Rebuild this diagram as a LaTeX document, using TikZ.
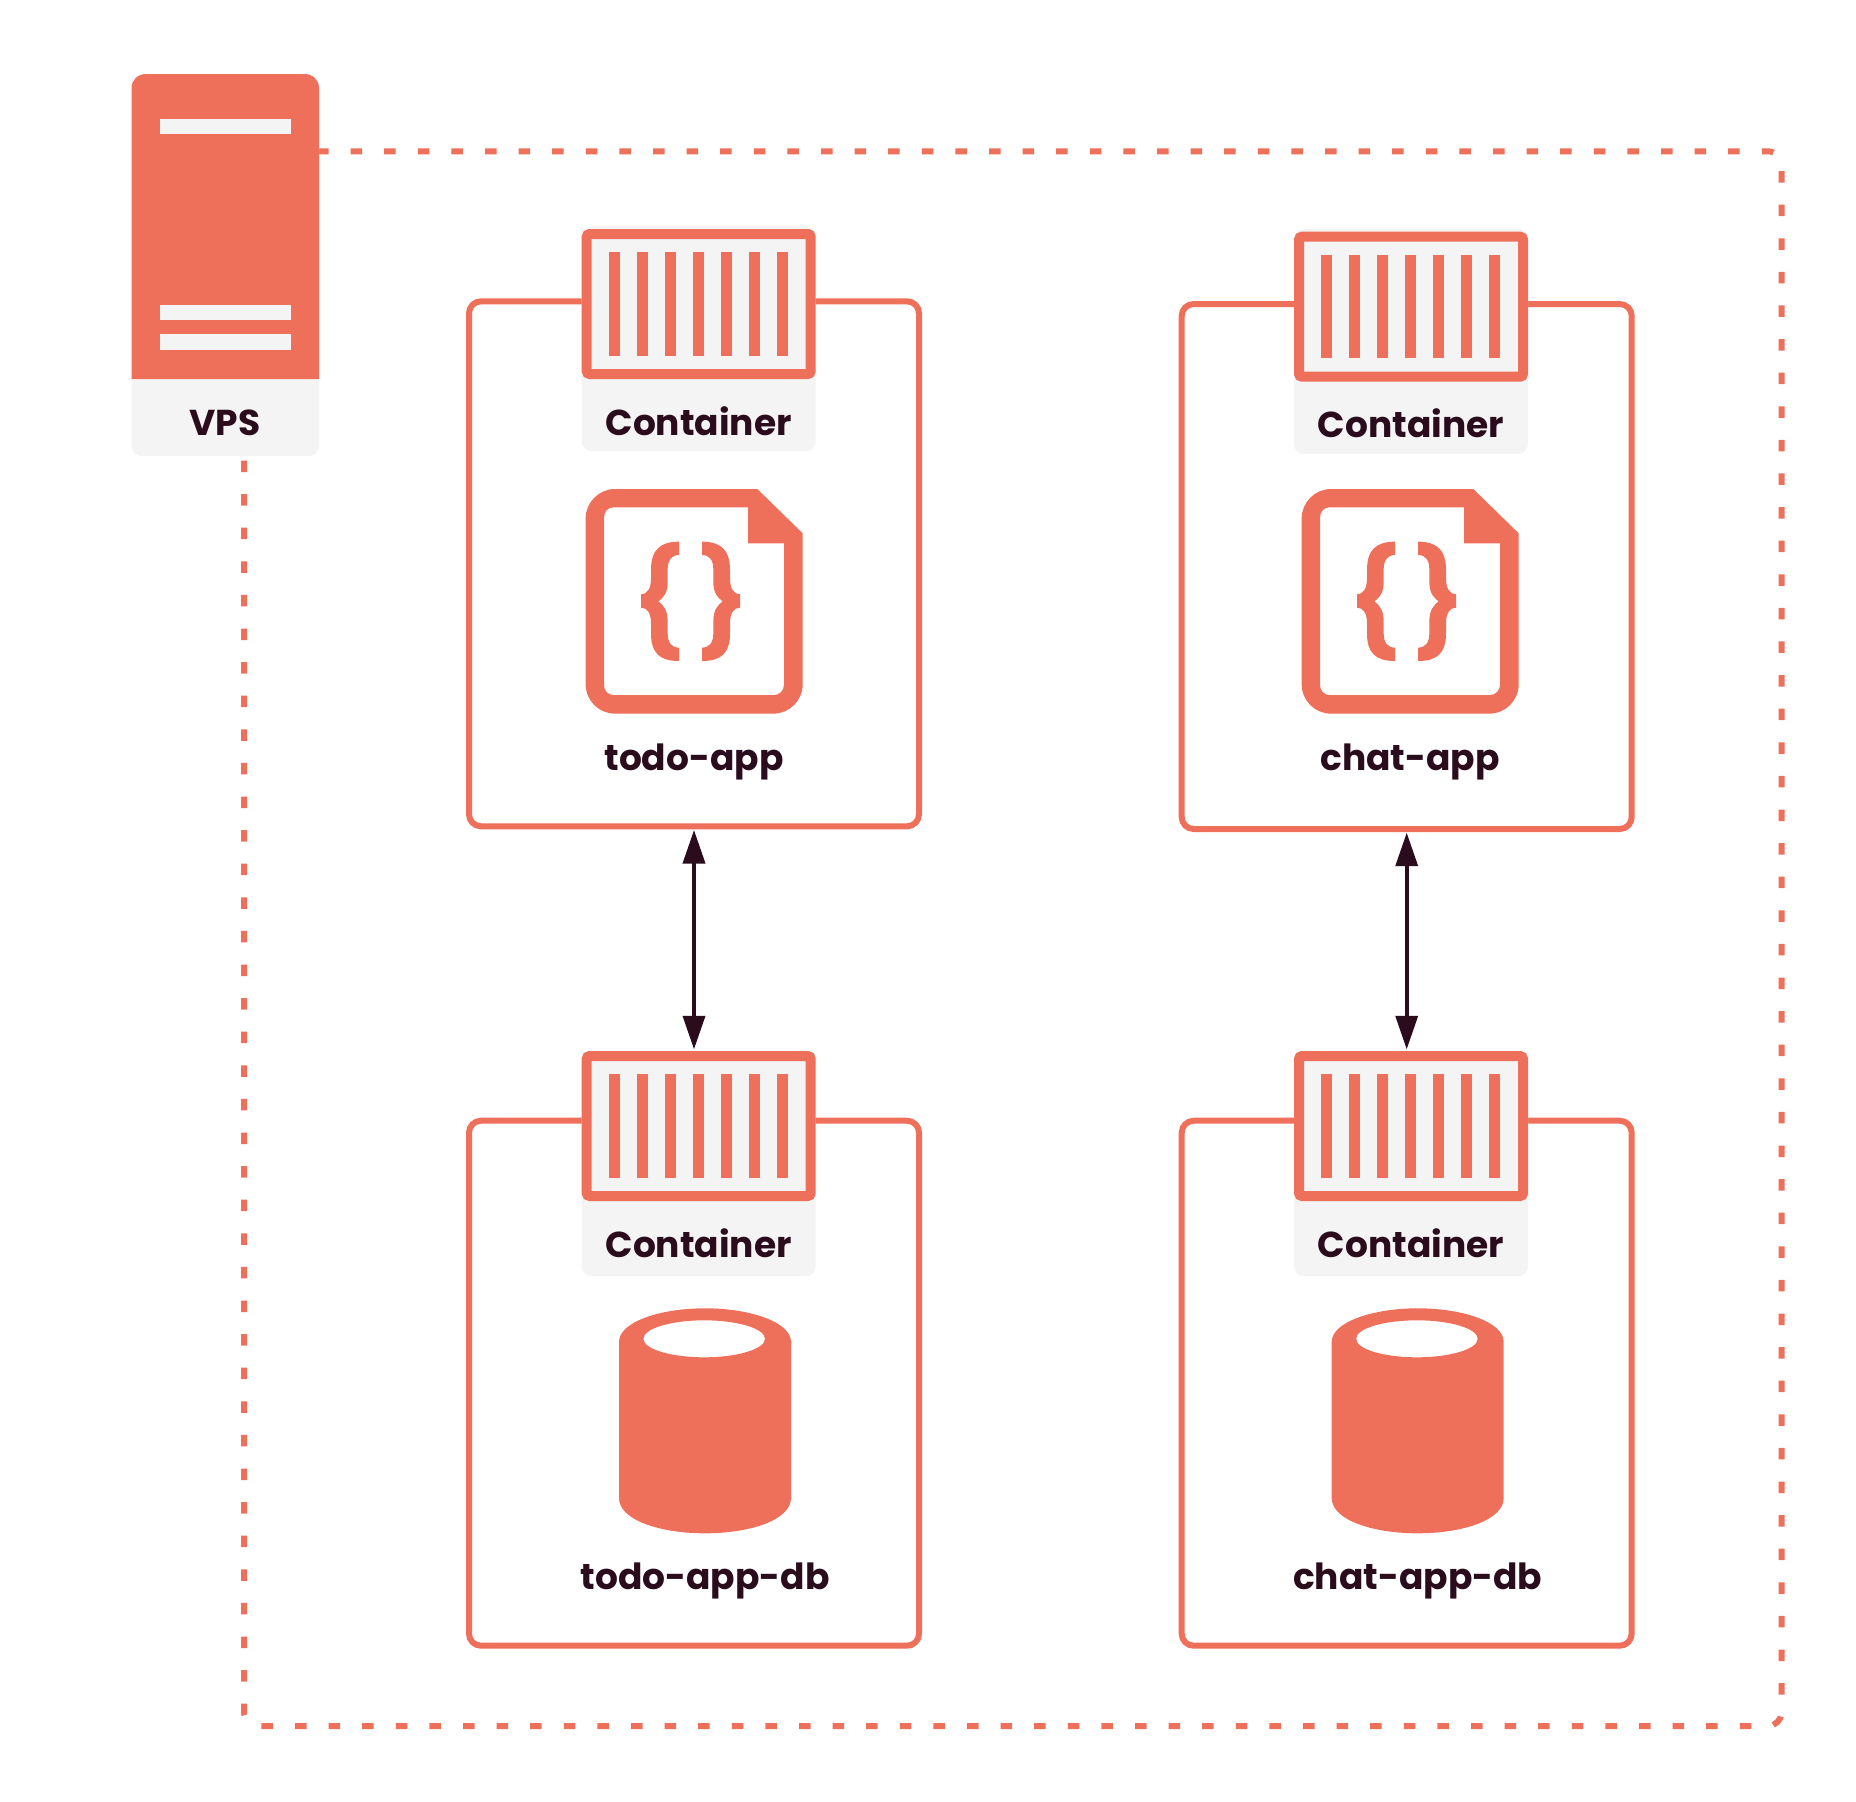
\documentclass[tikz,border=0pt]{standalone}
\usepackage{fontspec}
\setmainfont{Poppins}
\usetikzlibrary{arrows.meta}
\definecolor{coral}{HTML}{EF705A}
\definecolor{paper}{HTML}{F4F4F4}
\definecolor{ink}{HTML}{2A0C1D}
\tikzset{
  boxst/.style={draw=coral,line width=6pt,rounded corners=12pt,fill=white,inner sep=0pt,minimum width=450pt,minimum height=525pt},
  cardst/.style={fill=paper,rounded corners=10pt,inner sep=0pt,minimum width=234pt,minimum height=225pt},
  framest/.style={draw=coral,fill=paper,line width=10pt,rounded corners=3pt,inner sep=0pt,minimum width=224pt,minimum height=140pt},
  labelst/.style={anchor=base,inner sep=0pt,text=ink,font=\fontsize{36}{36}\selectfont\bfseries},
  linkst/.style={draw=ink,line width=3.6pt,{Triangle[length=33.5pt,width=22pt]}-{Triangle[length=33.5pt,width=22pt]},shorten <=0.7pt,shorten >=1.7pt},
  dashst/.style={draw=coral,line width=6pt,dash pattern=on 11.5pt off 22.1pt,rounded corners=14pt}
}
% name, centre x, card top, frame top
\newcommand{\ctnicon}[4]{%
  \node[cardst,anchor=north] (#1card) at (#2,#3) {};
  \node[framest] (#1) at (#2,#4+75) {};
  \foreach \k in {0,...,6}{\fill[coral] (#2-89.7+28*\k,#4+23.3) rectangle ++(10.5,103.4);}
  \node[labelst] (#1text) at (#2,#4+206) {Container};
}
\newcommand{\bracepath}{(357,215) .. controls (300,215) and (273,240) .. (273,300) -- (273,325) .. controls (273,355) and (262,373) .. (243,373) -- (243,413) .. controls (262,413) and (273,430) .. (273,460) -- (273,490) .. controls (273,550) and (300,573) .. (357,573) -- (357,533) .. controls (335,533) and (323,518) .. (323,490) -- (323,455) .. controls (323,420) and (310,405) .. (295,394) .. controls (310,383) and (323,370) .. (323,335) -- (323,298) .. controls (323,270) and (335,255) .. (357,255) -- cycle}
% crop origin x
\newcommand{\fileicon}[1]{%
  \begin{scope}[shift={(#1,470)},x=0.33333pt,y=-0.33333pt]
    \fill[coral,even odd rule]
      (165,57) -- (592,57) -- (728,190) -- (728,643) .. controls (728,692) and (688,731) .. (640,731) -- (165,731) .. controls (117,731) and (77,692) .. (77,643) -- (77,145) .. controls (77,97) and (117,57) .. (165,57) -- cycle
      (160,112) -- (564,112) -- (564,220) -- (672,220) -- (672,645) .. controls (672,662) and (658,675) .. (642,675) -- (160,675) .. controls (144,675) and (132,662) .. (132,645) -- (132,142) .. controls (132,125) and (144,112) .. (160,112) -- cycle;
    \fill[coral] \bracepath;
    \begin{scope}[shift={(783,0)},xscale=-1]
      \fill[coral] \bracepath;
    \end{scope}
  \end{scope}
}
% centre x
\newcommand{\dbicon}[1]{%
  \fill[coral,even odd rule]
    (#1-86,1342) .. controls (#1-86,1322) and (#1-45,1308.3) .. (#1,1308.3) .. controls (#1+45,1308.3) and (#1+86,1322) .. (#1+86,1342) -- (#1+86,1498) .. controls (#1+86,1520) and (#1+45,1533.3) .. (#1,1533.3) .. controls (#1-45,1533.3) and (#1-86,1520) .. (#1-86,1498) -- cycle
    (#1-0.8,1338.8) ellipse [x radius=60.8,y radius=18.5];
}
\begin{document}
\begin{tikzpicture}[x=1pt,y=-1pt]
\useasboundingbox[fill=white] (0,0) rectangle (1856,1802);
% dashed frame
\coordinate (fa) at (317,151.3);
\coordinate (fb) at (1781.7,151.3);
\coordinate (fc) at (1781.7,1726);
\coordinate (fd) at (244,1726);
\coordinate (fe) at (244,457);
\draw[dashst] (fa) -- (fb) -- (fc) -- (fd) -- (fe);
% VPS
\node[cardst,minimum width=187.5pt,minimum height=381.7pt,anchor=north] (vps) at (225.25,74) {};
\fill[coral] (131.5,379) -- (131.5,88) .. controls (131.5,80) and (138,74) .. (146,74) -- (304.5,74) .. controls (312.5,74) and (319,80) .. (319,88) -- (319,379) -- cycle;
\fill[paper] (159.5,119) rectangle (291,134);
\fill[paper] (159.5,305) rectangle (291,320);
\fill[paper] (159.5,334) rectangle (291,349.5);
\node[labelst] (vpstext) at (224.7,435) {VPS};
% boxes
\node[boxst] (boxA) at (694,563.8) {};
\node[boxst] (boxB) at (1406.7,566.5) {};
\node[boxst] (boxC) at (694,1383.2) {};
\node[boxst] (boxD) at (1406.7,1383.2) {};
% containers
\ctnicon{ctnA}{698.7}{226}{229}
\ctnicon{ctnB}{1411}{228.7}{231.7}
\ctnicon{ctnC}{698.7}{1051}{1051}
\ctnicon{ctnD}{1411}{1051}{1051}
% icons
\fileicon{560}
\fileicon{1276}
\dbicon{705}
\dbicon{1417.7}
\node[labelst] (lblA) at (694,770) {todo-app};
\node[labelst] (lblB) at (1410,770) {chat-app};
\node[labelst] (lblC) at (705,1589) {todo-app-db};
\node[labelst] (lblD) at (1417.7,1589) {chat-app-db};
% links
\draw[linkst] (boxA.south) -- (boxA.south |- ctnC.north);
\draw[linkst] (boxB.south) -- (boxB.south |- ctnD.north);
\end{tikzpicture}
\end{document}
